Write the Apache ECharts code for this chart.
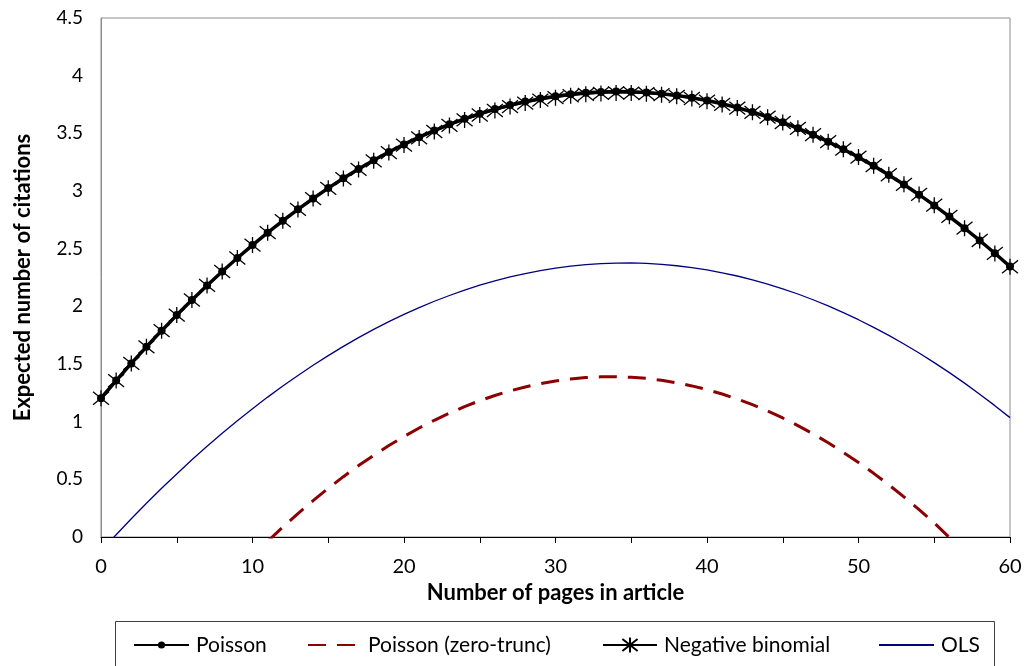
<!DOCTYPE html>
<html><head><meta charset="utf-8">
<script src="https://cdn.jsdelivr.net/npm/echarts@6/dist/echarts.min.js"></script>
<style>html,body{margin:0;padding:0;background:#fff}#c{width:1027px;height:666px}</style>
</head><body><div id="c"></div>
<script>
const pages = [0,1,2,3,4,5,6,7,8,9,10,11,12,13,14,15,16,17,18,19,20,21,22,23,24,25,26,27,28,29,30,31,32,33,34,35,36,37,38,39,40,41,42,43,44,45,46,47,48,49,50,51,52,53,54,55,56,57,58,59,60];
const poisson = [1.203,1.356,1.505,1.649,1.789,1.924,2.055,2.181,2.302,2.419,2.531,2.639,2.742,2.841,2.935,3.025,3.110,3.190,3.266,3.338,3.404,3.467,3.524,3.578,3.626,3.670,3.710,3.745,3.775,3.801,3.822,3.839,3.851,3.859,3.862,3.860,3.854,3.844,3.829,3.809,3.785,3.756,3.723,3.685,3.642,3.596,3.544,3.488,3.427,3.362,3.292,3.218,3.139,3.056,2.968,2.875,2.778,2.677,2.571,2.460,2.345];
const zeroTrunc = [-1.761,-1.577,-1.398,-1.224,-1.057,-0.894,-0.738,-0.587,-0.441,-0.301,-0.167,-0.038,0.086,0.203,0.315,0.422,0.523,0.619,0.708,0.793,0.871,0.945,1.012,1.074,1.131,1.182,1.227,1.267,1.301,1.330,1.353,1.370,1.382,1.389,1.390,1.385,1.375,1.359,1.337,1.310,1.278,1.240,1.196,1.147,1.092,1.032,0.966,0.894,0.817,0.734,0.646,0.552,0.453,0.348,0.238,0.122,-0.005,-0.127,-0.260,-0.398,-0.542];
const negBin = [1.203,1.356,1.505,1.649,1.789,1.924,2.055,2.181,2.302,2.419,2.531,2.639,2.742,2.840,2.934,3.023,3.108,3.187,3.262,3.333,3.398,3.460,3.516,3.569,3.616,3.659,3.698,3.732,3.762,3.788,3.809,3.826,3.838,3.846,3.850,3.849,3.844,3.835,3.821,3.802,3.779,3.751,3.719,3.682,3.640,3.594,3.543,3.488,3.428,3.363,3.294,3.220,3.141,3.058,2.970,2.877,2.780,2.678,2.571,2.459,2.343];
const ols = [-0.122,0.020,0.158,0.292,0.422,0.547,0.669,0.786,0.899,1.008,1.112,1.213,1.309,1.401,1.489,1.573,1.653,1.729,1.800,1.867,1.930,1.989,2.044,2.094,2.141,2.183,2.221,2.255,2.284,2.310,2.331,2.349,2.362,2.370,2.375,2.376,2.372,2.364,2.352,2.336,2.316,2.291,2.263,2.230,2.193,2.152,2.107,2.057,2.004,1.946,1.884,1.818,1.748,1.673,1.595,1.512,1.425,1.334,1.238,1.139,1.035];
const seriesNames = ['Poisson', 'Poisson (zero-trunc)', 'Negative binomial', 'OLS'];
const xTitle = 'Number of pages in article';
const yTitle = 'Expected number of citations';

const FONT = 'Lato';
const pair = arr => pages.map((p, i) => [p, arr[i]]);
const star = 'path://M-1,-1L1,1M-1,1L1,-1M0,-1.25L0,1.25';
const hidden = {color: 'rgba(0,0,0,0)', borderColor: 'rgba(0,0,0,0)', opacity: 0};

const chart = echarts.init(document.getElementById('c'), null, {renderer: 'canvas'});
const legendBase = {
  orient: 'horizontal', padding: 0, top: 633, selectedMode: false,
  textStyle: {fontFamily: FONT, fontSize: 21, color: '#000', lineHeight: 24, padding: [0, 0, 0, 2]}
};
chart.setOption({
  animation: false,
  backgroundColor: '#fff',
  grid: {left: 101, right: 17, top: 18, bottom: 129, show: true, borderColor: '#8c8c8c', borderWidth: 1, containLabel: false},
  xAxis: {
    type: 'value', min: 0, max: 60, interval: 5,
    name: xTitle, nameLocation: 'middle', nameGap: 45,
    nameTextStyle: {fontFamily: FONT, fontWeight: 'bold', fontSize: 22, color: '#000'},
    axisLine: {show: true, lineStyle: {color: '#000', width: 1}},
    axisTick: {show: true, length: 6, lineStyle: {color: '#000'}},
    axisLabel: {fontFamily: FONT, fontSize: 20, color: '#000', margin: 20,
      formatter: v => (v % 10 === 0 ? String(v) : '')},
    splitLine: {show: false}
  },
  yAxis: {
    type: 'value', min: 0, max: 4.5, interval: 0.5,
    name: yTitle, nameLocation: 'middle', nameGap: 67,
    nameTextStyle: {fontFamily: FONT, fontWeight: 'bold', fontSize: 22, color: '#000'},
    axisLine: {show: true, lineStyle: {color: '#8c8c8c', width: 1}},
    axisTick: {show: false},
    axisLabel: {fontFamily: FONT, fontSize: 19, color: '#000', margin: 18},
    splitLine: {show: false}
  },
  legend: [
    Object.assign({}, legendBase, {data: [seriesNames[0]], left: 133, itemWidth: 55, itemHeight: 9}),
    Object.assign({}, legendBase, {data: [{name: seriesNames[1], itemStyle: hidden}], left: 307, itemWidth: 53, itemHeight: 9}),
    Object.assign({}, legendBase, {data: [seriesNames[2]], left: 602, itemWidth: 54, itemHeight: 19}),
    Object.assign({}, legendBase, {data: [{name: seriesNames[3], itemStyle: hidden}], left: 878, itemWidth: 55, itemHeight: 9})
  ],
  graphic: [{
    type: 'rect', left: 113, top: 619, silent: true,
    shape: {width: 879, height: 70},
    style: {fill: 'none', stroke: '#404040', lineWidth: 1}
  }],
  series: [
    {name: seriesNames[0], type: 'line', data: pair(poisson), z: 3,
      symbol: 'circle', symbolSize: 8,
      lineStyle: {color: '#000', width: 3.5}, itemStyle: {color: '#000'}},
    {name: seriesNames[1], type: 'line', data: pair(zeroTrunc), z: 2, symbol: 'none',
      lineStyle: {color: '#8b0000', width: 3, type: [18, 11]}, itemStyle: {color: '#8b0000'}},
    {name: seriesNames[2], type: 'line', data: pair(negBin), z: 4,
      symbol: star, symbolSize: 16,
      lineStyle: {color: '#000', width: 1},
      itemStyle: {color: 'rgba(0,0,0,0)', borderColor: '#000', borderWidth: 1.3}},
    {name: seriesNames[3], type: 'line', data: pair(ols), z: 2, symbol: 'none', smooth: false,
      lineStyle: {color: '#000080', width: 1.3}, itemStyle: {color: '#000080'}}
  ]
});
</script></body></html>
